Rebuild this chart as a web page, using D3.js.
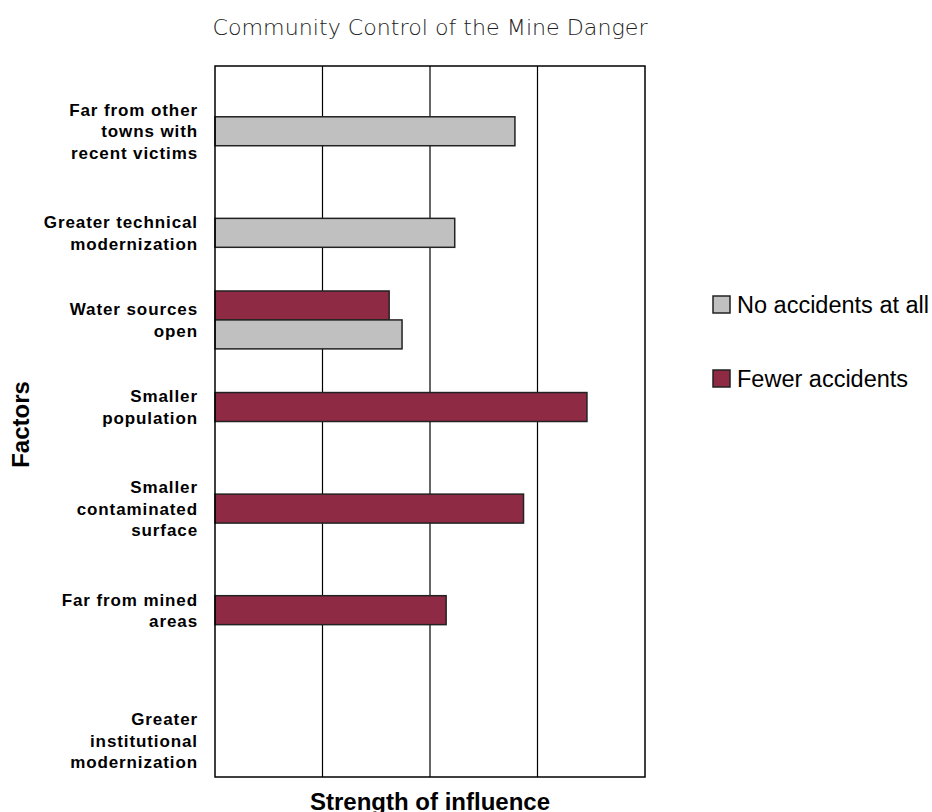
<!DOCTYPE html>
<html>
<head>
<meta charset="utf-8">
<script src="https://cdn.jsdelivr.net/npm/d3@7"></script>
<style>
  body { margin: 0; background: #fff; }
  text { font-family: "Liberation Sans", Arial, sans-serif; }
</style>
</head>
<body>
<div id="chart"></div>
<script>
// data
const factors = [
  ["Far from other", "towns with", "recent victims"],
  ["Greater technical", "modernization"],
  ["Water sources", "open"],
  ["Smaller", "population"],
  ["Smaller", "contaminated", "surface"],
  ["Far from mined", "areas"],
  ["Greater", "institutional", "modernization"]
];
const seriesNames = ["Fewer accidents", "No accidents at all"];
const fewerAccidents = [null, null, 1.62, 3.46, 2.87, 2.15, null];
const noAccidents    = [2.79, 2.23, 1.74, null, null, null, null];
const xTicks = [0, 1, 2, 3, 4];
const colors = ["#8f2a45", "#c0c0c0"];

const width = 932, height = 812;
const margin = {top: 66, right: 287, bottom: 35, left: 215};
const w = width - margin.left - margin.right;
const h = height - margin.top - margin.bottom;

const svg = d3.select("#chart").append("svg")
    .attr("width", width)
    .attr("height", height);

const x = d3.scaleLinear().domain([0, 4]).range([0, w]);
const y = d3.scaleBand().domain(d3.range(factors.length)).range([0, h])
    .paddingInner(0.43).paddingOuter(0.215);
const ySub = d3.scaleBand().domain([0, 1]).range([0, y.bandwidth()]);

const g = svg.append("g").attr("transform", `translate(${margin.left},${margin.top})`);

// gridlines
g.selectAll(".grid")
  .data(xTicks.slice(1, -1))
  .join("line")
    .attr("class", "grid")
    .attr("x1", d => x(d)).attr("x2", d => x(d))
    .attr("y1", 0).attr("y2", h)
    .attr("stroke", "#000")
    .attr("stroke-width", 1.2);

// bars
const rows = [];
factors.forEach((f, i) => {
  [fewerAccidents[i], noAccidents[i]].forEach((v, s) => {
    if (v != null) rows.push({i, s, v});
  });
});

g.selectAll(".bar")
  .data(rows)
  .join("rect")
    .attr("class", "bar")
    .attr("x", 0)
    .attr("y", d => y(d.i) + ySub(d.s))
    .attr("width", d => x(d.v))
    .attr("height", ySub.bandwidth())
    .attr("fill", d => colors[d.s])
    .attr("stroke", "#222")
    .attr("stroke-width", 1.5);

// frame
g.append("rect")
  .attr("width", w).attr("height", h)
  .attr("fill", "none")
  .attr("stroke", "#000")
  .attr("stroke-width", 1.5);

// category labels: centred on the bars shown in each row
function labelCenter(i) {
  const present = [fewerAccidents[i], noAccidents[i]]
    .map((v, s) => v != null ? s : null).filter(s => s != null);
  if (present.length === 1) return y(i) + ySub(present[0]) + ySub.bandwidth() / 2;
  if (present.length === 2) return y(i) + y.bandwidth() / 2;
  return y(i) + ySub(1) + ySub.bandwidth() / 2;
}

const lineH = 21.5;
const lab = g.selectAll(".cat")
  .data(factors)
  .join("text")
    .attr("class", "cat")
    .attr("text-anchor", "end")
    .attr("font-size", 17)
    .attr("font-weight", "bold")
    .style("letter-spacing", "0.9px")
    .attr("fill", "#000");
lab.each(function(lines, i) {
  const c = labelCenter(i);
  const y0 = c - (lines.length - 1) * lineH / 2;
  d3.select(this).selectAll("tspan")
    .data(lines)
    .join("tspan")
      .attr("x", -17)
      .attr("y", (d, k) => y0 + k * lineH)
      .attr("dy", "0.36em")
      .text(d => d);
});

// title
svg.append("text")
  .attr("x", margin.left + w / 2)
  .attr("y", 35)
  .attr("text-anchor", "middle")
  .attr("font-size", 22)
  .attr("fill", "#222")
  .style("font-family", "'DejaVu Sans', sans-serif")
  .style("font-weight", 200)
  .attr("textLength", 435)
  .attr("lengthAdjust", "spacingAndGlyphs")
  .text("Community Control of the Mine Danger");

// axis titles
svg.append("text")
  .attr("x", margin.left + w / 2)
  .attr("y", 810)
  .attr("text-anchor", "middle")
  .attr("font-size", 24)
  .attr("font-weight", "bold")
  .text("Strength of influence");

svg.append("text")
  .attr("transform", `translate(21,${margin.top + h / 2 + 3}) rotate(-90)`)
  .attr("text-anchor", "middle")
  .attr("dy", "0.35em")
  .attr("font-size", 24)
  .attr("font-weight", "bold")
  .text("Factors");

// legend
const legendOrder = [1, 0];
const leg = svg.append("g").attr("transform", "translate(713,296)");
const item = leg.selectAll(".leg")
  .data(legendOrder)
  .join("g")
    .attr("class", "leg")
    .attr("transform", (d, k) => `translate(0,${k * 74})`);
item.append("rect")
  .attr("width", 17).attr("height", 17)
  .attr("fill", d => colors[d])
  .attr("stroke", "#222")
  .attr("stroke-width", 1.5);
item.append("text")
  .attr("x", 24)
  .attr("y", 17)
  .attr("font-size", 23.5)
  .attr("fill", "#000")
  .text(d => seriesNames[d]);
</script>
</body>
</html>
